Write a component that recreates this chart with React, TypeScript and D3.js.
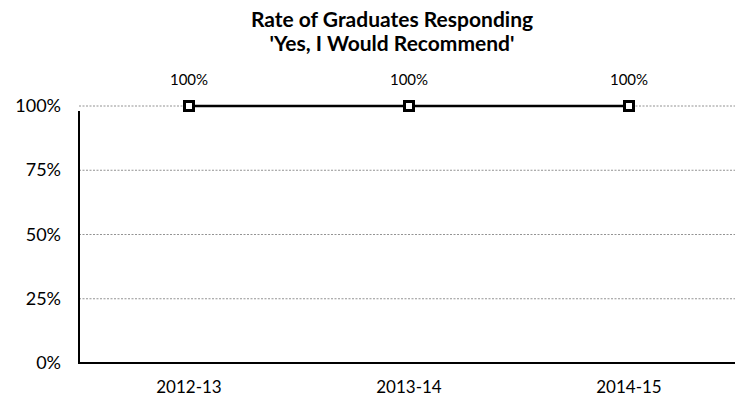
import React from 'react';
import * as d3 from 'd3';

const years = ['2012-13', '2013-14', '2014-15'];
const rates = [1, 1, 1];
const yTicks = [0, 0.25, 0.5, 0.75, 1];

const App: React.FC = () => {
  const width = 735;
  const height = 402;
  const margin = { top: 106, right: -4, bottom: 39, left: 79 };
  const font = 'Lato, "Open Sans", sans-serif';

  const x = d3.scaleBand<string>()
    .domain(years)
    .range([margin.left, width - margin.right]);
  const y = d3.scaleLinear().domain([0, 1]).range([height - margin.bottom, margin.top]);
  const fmt = d3.format('.0%');

  const line = d3.line<number>()
    .x((_, i) => x(years[i])! + x.bandwidth() / 2)
    .y(d => y(d));

  return (
    <svg width={width} height={height} style={{ position: 'absolute', left: 0, top: 0, background: '#fff' }}>
      {/* title */}
      <text x={392} y={27} textAnchor="middle" fontFamily={font} fontWeight="bold" fontSize={21} fill="#000">
        Rate of Graduates Responding
      </text>
      <text x={392} y={51} textAnchor="middle" fontFamily={font} fontWeight="bold" fontSize={21} fill="#000">
        'Yes, I Would Recommend'
      </text>

      {/* gridlines */}
      {yTicks.filter(t => t > 0).map(t => (
        <line key={t} x1={margin.left} x2={width} y1={y(t)} y2={y(t)}
          stroke="#777" strokeWidth={0.8} strokeDasharray="2,1.5" />
      ))}

      {/* y labels */}
      {yTicks.map(t => (
        <text key={t} x={61} y={y(t) + 6} textAnchor="end" fontFamily={font} fontSize={18} fill="#000">
          {fmt(t)}
        </text>
      ))}

      {/* axes */}
      <line x1={margin.left} x2={margin.left} y1={y(1) + 5} y2={y(0) + 1} stroke="#000" strokeWidth={2} />
      <line x1={margin.left - 1} x2={width} y1={y(0)} y2={y(0)} stroke="#000" strokeWidth={2} />

      {/* x labels */}
      {years.map(c => (
        <text key={c} x={x(c)! + x.bandwidth() / 2} y={393} textAnchor="middle" fontFamily={font} fontSize={17} fill="#000">
          {c}
        </text>
      ))}

      {/* series */}
      <path d={line(rates) ?? ''} fill="none" stroke="#000" strokeWidth={2.5} />
      {rates.map((v, i) => {
        const cx = x(years[i])! + x.bandwidth() / 2;
        return (
          <g key={i}>
            <rect x={cx - 4.5} y={y(v) - 4.5} width={9} height={9} fill="#fff" stroke="#000" strokeWidth={3} />
            <text x={cx} y={y(v) - 21} textAnchor="middle" fontFamily={font} fontSize={15} fill="#000">
              {fmt(v)}
            </text>
          </g>
        );
      })}
    </svg>
  );
};

export default App;
